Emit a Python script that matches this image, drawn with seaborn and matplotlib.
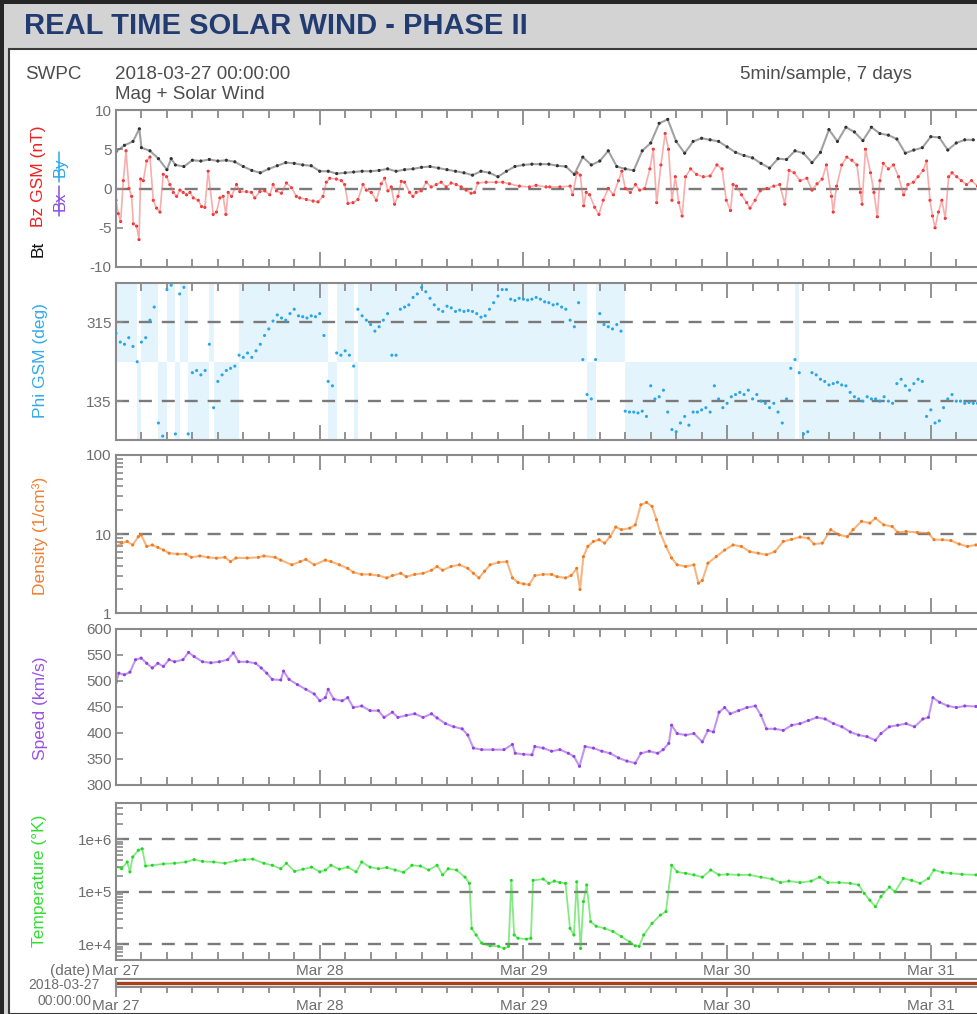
import numpy as np
import pandas as pd
import matplotlib
matplotlib.use('Agg')
import matplotlib.pyplot as plt
import matplotlib.dates as mdates
from matplotlib.patches import Rectangle
from matplotlib.lines import Line2D
from matplotlib.ticker import FixedLocator, NullFormatter, LogLocator, FixedFormatter
import seaborn as sns

# ---------------- DATA (hours after 2018-03-27 00:00) ----------------
START = pd.Timestamp('2018-03-27 00:00:00')

bt_hours = [0, 1, 2, 2.75, 3, 4, 5, 6, 6.5, 7,
            8, 9, 10, 11, 12, 13, 14, 15, 16, 17,
            18, 19, 20, 21, 22, 23, 24, 25, 26, 27,
            28, 29, 30, 31, 32, 33, 34, 35, 36, 37,
            38, 39, 40, 41, 42, 43, 44, 45, 46, 47,
            48, 49, 50, 51, 52, 53, 54, 55, 56, 57,
            58, 59, 60, 61, 62, 63, 64, 65, 66, 67,
            68, 69, 70, 71, 72, 73, 74, 75, 76, 77,
            78, 79, 80, 81, 82, 83, 84, 85, 86, 87,
            88, 89, 90, 91, 92, 93, 94, 95, 96, 97,
            98, 99, 100, 101]
bt_nT = [4.7, 5.5, 6.0, 7.6, 5.2, 4.8, 3.8, 2.4, 3.8, 3.0,
         2.8, 3.6, 3.5, 3.7, 3.5, 3.6, 3.4, 2.8, 2.3, 2.0,
         2.5, 2.9, 3.3, 3.2, 3.0, 2.9, 2.2, 2.2, 1.9, 2.0,
         2.1, 2.2, 2.2, 2.3, 2.5, 2.2, 2.4, 2.5, 2.7, 2.8,
         2.6, 2.4, 2.2, 2.0, 1.7, 2.2, 2.0, 1.5, 2.2, 2.8,
         3.0, 3.1, 3.1, 3.1, 2.9, 2.8, 1.8, 4.0, 3.0, 3.5,
         4.8, 2.8, 2.5, 2.3, 4.8, 5.8, 8.3, 8.8, 6.0, 4.5,
         6.0, 6.4, 6.2, 6.0, 5.3, 4.6, 4.2, 3.9, 3.2, 2.6,
         3.8, 3.7, 4.8, 4.5, 3.3, 4.6, 7.5, 6.0, 7.8, 7.2,
         6.1, 7.8, 7.0, 6.8, 6.3, 4.5, 4.9, 5.2, 6.6, 6.5,
         4.9, 5.8, 6.2, 6.2]

bz_hours = [0.0, 0.27, 0.55, 0.86, 1.18, 1.53, 1.84, 2.04, 2.43, 2.71,
            2.90, 3.22, 3.61, 4.00, 4.39, 4.78, 5.18, 5.57, 5.96, 6.35,
            6.75, 7.14, 7.53, 7.92, 8.31, 8.71, 9.10, 9.69, 10.08, 10.47,
            10.86, 11.45, 11.84, 12.24, 12.63, 12.94, 13.22, 13.61, 14.20, 14.59,
            15.37, 15.96, 16.35, 16.94, 17.53, 18.12, 18.51, 18.90, 19.49, 20.08,
            20.67, 21.25, 21.65, 22.43, 23.22, 23.80, 24.39, 24.78, 25.18, 25.96,
            26.55, 26.94, 27.33, 27.92, 28.51, 29.10, 29.49, 30.08, 30.67, 31.25,
            31.65, 32.04, 32.43, 32.82, 33.22, 33.61, 34.00, 34.59, 34.98, 35.37,
            35.96, 36.55, 37.14, 37.73, 38.31, 38.90, 39.49, 40.08, 40.67, 41.25,
            41.84, 42.24, 42.63, 43.61, 44.78, 45.57, 46.35, 47.53, 48.71, 49.49,
            50.67,
            51.1, 52.3, 53.5, 53.8, 54.3, 54.7, 55.1, 55.4, 55.8, 56.4,
            56.9, 57.4, 58.0, 58.6, 59.2, 59.6, 60.0, 60.6, 61.2, 61.7,
            62.3, 62.9, 63.3, 63.7, 64.2, 64.7, 65.1, 65.5, 65.9, 66.3,
            66.7, 67.1, 67.7, 68.4, 69.2, 70.0, 70.8, 71.4, 71.9, 72.4,
            72.7, 73.1, 73.7, 74.3, 74.7, 75.3, 75.9, 76.7, 77.5, 78.2,
            78.8, 79.3, 79.9, 80.6, 81.4, 82.0, 82.6, 83.2, 83.7, 84.3,
            84.5, 84.9, 85.5, 86.1, 86.7, 87.3, 87.7, 87.9, 88.3, 88.9,
            89.3, 89.7, 90.0, 90.4, 91.0, 91.6, 92.2, 92.8, 93.3, 93.95,
            94.5, 95.1, 95.5, 95.9, 96.2, 96.5, 96.9, 97.3, 97.7, 98.1,
            98.5, 99.05, 99.6, 100.2, 100.8, 101.5]
bz_nT = [-1.5, -3.2, -4.2, 1.0, 4.8, 0.0, -1.0, -4.5, -4.8, -6.5,
         1.2, 1.0, 3.5, 4.0, -1.5, -2.5, -3.0, 1.8, 1.5, 0.5,
         -0.5, -1.0, -0.2, -0.5, -0.8, -0.5, -1.2, -1.5, -2.3, -2.4,
         2.2, -3.3, -3.0, -1.2, -1.0, -3.3, -0.5, -1.0, 0.5, -0.4,
         -0.4, -0.5, -1.2, -0.4, -0.3, -0.8, 0.5, -0.3, -0.6, 0.7,
         0.1, -1.0, -1.2, -1.4, -1.6, -1.7, -1.0, 0.8, 1.3, 1.2,
         1.0, 0.5, -1.9, -1.8, -1.4, 0.5, -0.2, -0.5, -1.5, 0.6,
         1.3, -0.3, 0.2, -2.0, -1.0, 0.9, 0.8, -0.5, -1.0, -0.5,
         -0.3, 0.8, 0.2, 0.5, 0.8, 0.2, 0.7, 0.5, 0.2, -0.2,
         -0.6, -0.5, 0.7, 0.8, 0.8, 0.8, 0.6, 0.3, 0.2, 0.4,
         0.2,
         0.2, 0.2, 0.3, -0.8, 2.0, 1.7, -2.2, -0.5, -0.8, -2.4,
         -3.3, -1.5, 0.0, -0.8, 1.0, 2.2, 0.0, -0.5, 0.5, -0.2,
         0.0, 2.5, 5.0, -1.8, 3.0, 7.0, 5.0, -1.5, 1.5, -1.8,
         -3.5, 1.5, 2.5, 1.8, 1.5, 1.6, 3.0, 2.5, -1.5, -2.8,
         0.5, 0.3, -0.8, -1.8, -2.5, -1.5, -0.3, 0.0, 0.3, 0.5,
         -2.0, 2.3, 2.0, 1.0, 1.3, -0.2, 0.6, 1.2, 3.0, -1.0,
         -3.0, 0.3, 3.0, 4.0, 3.6, 3.0, -0.5, -2.0, 5.0, 2.0,
         -0.5, -3.6, 1.0, 3.2, 2.5, 3.0, 1.5, -0.8, 0.5, 0.8,
         1.5, 2.3, 3.5, -1.5, -3.5, -5.0, -3.0, -1.5, -3.8, 1.5,
         2.0, 1.5, 1.0, 0.5, 1.0, 0.3]

# Phi GSM, one value every 30 minutes from 00:00
phi_deg = [290, 270, 265, 280, 260, 225, 270, 280, 320, 350,
           85, 55, 390, 400, 60, 380, 395, 60, 200, 205,
           195, 205, 265, 120, 180, 195, 205, 210, 215, 240,
           235, 245, 235, 250, 265, 285, 300, 318, 332, 325,
           320, 335, 345, 330, 328, 325, 330, 328, 335, 285,
           180, 170, 245, 240, 250, 240, 215, 345, 330, 320,
           310, 295, 305, 320, 335, 240, 240, 345, 350, 355,
           372, 380, 395, 385, 370, 355, 345, 340, 352, 348,
           340, 343, 340, 342, 340, 335, 327, 330, 345, 360,
           375, 390, 390, 368, 365, 370, 368, 366, 368, 372,
           368, 362, 360, 355, 357, 350, 345, 320, 305, 360,
           230, 150, 140, 230, 335, 310, 305, 300, 310, 295,
           112, 110, 110, 108, 112, 100, 170, 140, 145, 160,
           110, 70, 65, 85, 100, 80, 110, 110, 115, 120,
           110, 170, 140, 120, 130, 145, 150, 155, 150, 160,
           140, 150, 135, 130, 120, 130, 110, 85, 140, 210,
           230, 200, 60, 65, 200, 195, 185, 180, 172, 175,
           178, 172, 170, 155, 145, 140, 135, 145, 140, 140,
           135, 145, 135, 130, 175, 185, 170, 160, 175, 185,
           180, 100, 115, 85, 90, 120, 140, 150, 135, 135,
           130, 132, 130, 130]

dens_hours = [0.0, 0.66, 1.32, 1.97, 2.63, 2.96, 3.62, 4.28, 4.93, 5.59,
              6.25, 7.24, 8.22, 8.88, 9.87, 10.86, 11.84, 12.83, 13.49, 14.14,
              15.46, 16.78, 17.43, 18.75, 19.41, 20.72, 21.71, 22.37, 23.36, 24.67,
              25.33, 26.32, 27.30, 27.96, 28.95, 29.93, 30.92, 31.91, 32.57, 33.55,
              34.21, 35.20, 36.18, 37.17, 37.83, 38.49, 39.47, 40.46, 41.45, 42.11,
              42.76, 43.42, 44.08, 45.07, 46.05, 46.71, 47.37, 48.03, 48.68, 49.34,
              50.33, 51.32, 51.97, 52.96, 53.62, 54.28, 54.67, 55.07, 55.59, 56.25,
              56.91, 57.57, 58.22, 58.88, 59.54, 60.53, 61.18, 61.84, 62.50, 63.16,
              63.68, 64.14, 64.80, 65.46, 66.12, 67.11, 68.09, 68.62, 69.08, 69.74,
              70.72, 71.71, 72.70, 73.68, 74.67, 75.66, 76.64, 77.63, 78.62, 79.61,
              80.59, 81.58, 82.24, 83.22, 84.21, 85.20, 86.18, 86.84, 87.83, 88.82,
              89.47, 90.46, 91.45, 92.11, 93.09, 94.41, 95.72, 96.38, 97.37, 98.36,
              99.34, 100.33, 101.32]
dens_cm3 = [7.0, 7.7, 8.1, 7.3, 9.3, 9.8, 7.0, 7.3, 6.8, 6.3,
            5.75, 5.6, 5.6, 5.1, 5.3, 5.1, 4.97, 5.1, 4.5, 5.0,
            5.0, 5.1, 5.3, 5.1, 4.7, 4.1, 4.5, 4.8, 4.1, 4.7,
            4.5, 4.1, 3.7, 3.3, 3.1, 3.1, 3.0, 2.8, 3.0, 3.2,
            2.9, 3.1, 3.2, 3.5, 3.9, 3.5, 3.9, 4.1, 3.7, 3.2,
            2.8, 3.4, 4.1, 4.4, 4.5, 2.8, 2.45, 2.35, 2.3, 3.0,
            3.1, 3.1, 2.9, 2.8, 3.0, 3.7, 2.0, 5.2, 7.0, 8.1,
            8.5, 7.7, 9.3, 12.3, 11.4, 11.9, 13.1, 23.5, 25.2, 22.4,
            15.2, 10.3, 7.0, 5.0, 4.1, 3.9, 4.1, 2.4, 2.6, 4.3,
            5.2, 6.3, 7.3, 7.0, 6.0, 5.75, 5.5, 6.0, 8.1, 8.6,
            9.2, 8.9, 7.5, 7.7, 11.4, 9.8, 9.3, 11.4, 14.5, 13.8,
            15.9, 13.1, 12.5, 10.5, 10.8, 10.5, 10.3, 8.5, 8.5, 8.3,
            7.5, 7.0, 7.3]

speed_hours = [0.0, 0.33, 0.99, 1.64, 2.30, 2.96, 3.62, 4.28, 4.93, 5.59,
               6.25, 6.91, 7.89, 8.55, 9.21, 10.20, 11.18, 12.17, 13.16, 13.82,
               14.47, 15.46, 16.45, 17.11, 17.76, 18.42, 19.41, 19.74, 20.39, 21.38,
               22.37, 23.36, 24.01, 24.67, 25.00, 25.66, 26.64, 27.30, 27.96, 28.95,
               29.93, 30.92, 31.58, 32.57, 33.22, 34.21, 35.20, 36.18, 37.17, 37.83,
               38.82, 39.80, 40.79, 41.45, 42.11, 43.09, 44.41, 45.72, 46.71, 47.04,
               48.03, 49.01, 49.34, 50.33, 51.32, 52.30, 53.29, 53.95, 54.61, 55.26,
               56.25, 57.24, 58.22, 59.21, 60.20, 61.18, 61.84, 62.83, 63.82, 64.47,
               65.13, 65.46, 66.12, 67.11, 68.09, 69.08, 69.74, 70.39, 71.05, 71.71,
               72.37, 73.36, 74.34, 75.33, 75.99, 76.64, 77.63, 78.62, 79.61, 80.59,
               81.58, 82.57, 83.55, 84.54, 85.53, 86.51, 87.50, 88.49, 89.47, 90.13,
               91.12, 92.11, 93.09, 94.08, 95.07, 95.72, 96.25, 97.04, 98.03, 99.01,
               100.00, 101.32]
speed_kms = [497, 515, 512, 517, 541, 544, 534, 525, 534, 528,
             541, 537, 541, 555, 547, 537, 535, 537, 541, 554,
             537, 537, 534, 525, 515, 503, 502, 519, 503, 493,
             484, 475, 462, 468, 484, 465, 462, 468, 449, 452,
             443, 443, 430, 440, 430, 434, 437, 430, 437, 429,
             418, 412, 408, 396, 371, 368, 368, 368, 378, 361,
             359, 358, 374, 371, 365, 368, 361, 355, 336, 374,
             371, 365, 361, 352, 346, 342, 361, 365, 361, 368,
             380, 415, 399, 396, 399, 383, 405, 402, 440, 449,
             437, 443, 449, 452, 434, 408, 408, 405, 415, 418,
             424, 430, 427, 418, 412, 402, 396, 393, 386, 399,
             412, 415, 418, 412, 427, 430, 468, 459, 452, 449,
             452, 451]

temp_hours = [0.0, 0.66, 1.32, 1.64, 1.97, 2.63, 3.09, 3.49, 4.28, 5.59,
              6.91, 8.22, 9.21, 10.20, 11.51, 12.83, 14.14, 15.13, 16.12, 17.43,
              18.42, 19.41, 20.07, 21.05, 22.04, 23.03, 24.01, 24.67, 25.33, 26.32,
              27.30, 28.29, 28.95, 29.93, 30.92, 31.91, 32.89, 33.88, 34.87, 35.86,
              36.84, 37.83, 38.49, 39.14, 40.13, 41.12, 41.64, 41.91, 42.43, 43.09,
              44.08, 45.07, 45.72, 46.25, 46.58, 46.91, 47.37, 48.36, 48.88, 49.14,
              50.33, 50.99, 51.64, 52.30, 52.96, 53.49, 53.95, 54.28, 54.74, 55.07,
              55.46, 55.92, 56.58, 57.57, 58.55, 59.54, 60.53, 61.18, 61.64, 62.17,
              63.16, 64.14, 64.80, 65.46, 66.12, 67.11, 68.09, 69.08, 70.07, 71.05,
              72.04, 73.36, 74.67, 75.99, 77.30, 78.29, 79.28, 80.59, 81.91, 82.89,
              83.88, 85.20, 86.51, 87.50, 88.16, 88.82, 89.47, 90.13, 91.12, 91.78,
              92.76, 93.75, 94.74, 95.72, 96.38, 97.37, 98.36, 99.67, 101.32]
temp_K = [3.0e5, 2.75e5, 3.7e5, 2.4e5, 4.6e5, 6.2e5, 6.6e5, 3.1e5, 3.2e5, 3.4e5,
          3.5e5, 3.7e5, 4.1e5, 3.8e5, 3.7e5, 3.5e5, 3.9e5, 4.1e5, 4.2e5, 3.5e5,
          3.2e5, 2.75e5, 3.5e5, 2.45e5, 2.7e5, 2.95e5, 2.4e5, 2.6e5, 3.2e5, 2.7e5,
          2.95e5, 2.4e5, 3.7e5, 2.95e5, 2.75e5, 2.9e5, 2.6e5, 2.35e5, 3.2e5, 3.1e5,
          2.6e5, 3.2e5, 2.1e5, 2.75e5, 2.6e5, 1.9e5, 1.45e5, 2.0e4, 1.5e4, 1.05e4,
          9.3e3, 9.1e3, 8.3e3, 9.1e3, 1.65e5, 1.5e4, 1.3e4, 1.25e4, 1.3e4, 1.65e5,
          1.75e5, 1.45e5, 1.6e5, 1.5e5, 1.45e5, 2.0e4, 1.5e4, 1.55e5, 8.3e3, 6.5e4,
          1.35e5, 2.7e4, 2.2e4, 2.0e4, 1.75e4, 1.4e4, 1.1e4, 9.3e3, 9.1e3, 1.5e4,
          2.5e4, 3.6e4, 4.2e4, 3.2e5, 2.4e5, 2.25e5, 2.1e5, 1.9e5, 2.6e5, 2.1e5,
          2.15e5, 2.1e5, 2.1e5, 1.9e5, 1.75e5, 1.5e5, 1.6e5, 1.5e5, 1.6e5, 1.9e5,
          1.5e5, 1.5e5, 1.45e5, 1.35e5, 9.3e4, 6.9e4, 5.2e4, 8.1e4, 1.23e5, 1.0e5,
          1.8e5, 1.65e5, 1.45e5, 1.8e5, 2.6e5, 2.35e5, 2.25e5, 2.15e5, 2.1e5]

strip_range_days = [0, 7]

# ---------------- STYLE ----------------
sns.set_style('white')
plt.rcParams['font.family'] = ['Liberation Sans', 'DejaVu Sans']
plt.rcParams['axes.unicode_minus'] = False

W, H = 978, 1014
fig = plt.figure(figsize=(W / 100, H / 100), dpi=100, facecolor='#262626')

def fx(px):
    return px / W

def fy(py):
    return 1 - py / H

# frame / page background
fig.add_artist(Rectangle((fx(4), fy(1014)), fx(978), (1014 - 4) / H,
                         transform=fig.transFigure, facecolor='#d3d3d3',
                         edgecolor='none', zorder=-20))
fig.add_artist(Rectangle((fx(9), fy(1014)), fx(975), (1014 - 49) / H,
                         transform=fig.transFigure, facecolor='white',
                         edgecolor='#3a3a3a', lw=1.5, zorder=-19))

fig.text(fx(24), fy(34), 'REAL TIME SOLAR WIND - PHASE II', fontsize=21,
         fontweight='bold', color='#223c72', va='baseline', ha='left')

TXT = '#4d4d4d'
fig.text(fx(25), fy(79), 'SWPC', fontsize=13.5, color=TXT, va='baseline')
fig.text(fx(115), fy(79), '2018-03-27 00:00:00', fontsize=13.5, color=TXT, va='baseline')
fig.text(fx(115), fy(99), 'Mag + Solar Wind', fontsize=13.5, color=TXT, va='baseline')
fig.text(fx(740), fy(79), '5min/sample, 7 days', fontsize=13.5, color=TXT, va='baseline')

LEFT = 116
X_END_H = 101.56
GRAY = '#8a8a8a'
TICKC = '#6e6e6e'


def make_axes(top, bottom):
    return fig.add_axes([fx(LEFT), fy(bottom), fx(W - LEFT), (bottom - top) / H])


def to_time(hours):
    return START + pd.to_timedelta(np.asarray(hours, dtype=float), unit='h')


def plot_series(ax, hours, vals, dot, line, s=5, lw=1.5, line_alpha=0.55):
    df = pd.DataFrame({'t': to_time(hours), 'v': vals})
    if line is not None:
        sns.lineplot(data=df, x='t', y='v', ax=ax, color=line, lw=lw,
                     alpha=line_alpha, estimator=None, sort=False, legend=False)
    sns.scatterplot(data=df, x='t', y='v', ax=ax, color=dot, s=s,
                    edgecolor='none', linewidth=0, legend=False)


def dashed(ax, y):
    ax.axhline(y, color='#7a7a7a', lw=1.7, ls=(0, (5.5, 4.2)), zorder=0.5)


def style_axes(ax, show_xlabels=False):
    ax.set_xlim(START, START + pd.Timedelta(hours=X_END_H))
    ax.xaxis.set_major_locator(mdates.DayLocator())
    ax.xaxis.set_minor_locator(mdates.HourLocator(byhour=range(0, 24, 3)))
    ax.xaxis.set_major_formatter(mdates.DateFormatter('%b %d'))
    ax.tick_params(axis='x', which='both', direction='in', top=True, bottom=True,
                   color=GRAY, width=1.3, labelbottom=show_xlabels,
                   labelsize=11, labelcolor=TICKC, pad=3)
    ax.tick_params(axis='x', which='major', length=11)
    ax.tick_params(axis='x', which='minor', length=6)
    ax.tick_params(axis='y', which='both', direction='in', left=True, right=False,
                   color=GRAY, width=1.2, labelsize=11, labelcolor=TICKC, pad=3)
    ax.tick_params(axis='y', which='major', length=5)
    ax.tick_params(axis='y', which='minor', length=5)
    for side in ['left', 'top', 'bottom']:
        ax.spines[side].set_color(GRAY)
        ax.spines[side].set_linewidth(1.5)
    ax.spines['right'].set_visible(False)
    ax.set_xlabel('')
    ax.set_ylabel('')
    ax.set_facecolor('white')


def ylabel(x, y, text, color, size=12.5):
    fig.text(fx(x), fy(y), text, rotation=90, ha='center', va='center',
             fontsize=size, color=color)


# ---------- Panel 1: magnetic field ----------
ax1 = make_axes(110, 267)
plot_series(ax1, bt_hours, bt_nT, '#111111', '#555555')
plot_series(ax1, bz_hours, bz_nT, '#ee1c1c', '#f26a6a', lw=1.2)
dashed(ax1, 0)
ax1.set_ylim(-10, 10)
ax1.set_yticks([-10, -5, 0, 5, 10])
style_axes(ax1)

ylabel(38, 176, 'Bz GSM (nT)', '#ee2222')
ylabel(38, 249, 'Bt', '#111111')
ylabel(60, 167, 'By', '#29a9e6', size=12)
ylabel(60, 201, 'Bx', '#8a4fe0', size=12)
fig.add_artist(Line2D([fx(59.5), fx(59.5)], [fy(152), fy(182)], color='#29a9e6', lw=1.1,
                      transform=fig.transFigure))
fig.add_artist(Line2D([fx(59.5), fx(59.5)], [fy(186), fy(216)], color='#8a4fe0', lw=1.1,
                      transform=fig.transFigure))

# ---------- Panel 2: Phi ----------
ax2 = make_axes(283, 440.5)
phi_t = pd.date_range(START, periods=len(phi_deg), freq='30min')
phi_bottom = [225 if p > 225 else 45 for p in phi_deg]
ax2.bar(phi_t, [180] * len(phi_deg), bottom=phi_bottom, width=1 / 48, align='edge',
        color='#e4f4fc', lw=0, zorder=0.2)
phi_df = pd.DataFrame({'t': phi_t, 'v': phi_deg})
sns.scatterplot(data=phi_df, x='t', y='v', ax=ax2, color='#2aa5e6', s=5,
                edgecolor='none', linewidth=0, legend=False, zorder=3)
dashed(ax2, 135)
dashed(ax2, 315)
ax2.set_ylim(45, 405)
ax2.set_yticks([135, 315])
style_axes(ax2)
ylabel(40, 361, 'Phi GSM (deg)', '#33aaee')

# ---------- Panel 3: Density ----------
ax3 = make_axes(455, 613.3)
ax3.set_yscale('log')
plot_series(ax3, dens_hours, dens_cm3, '#f07a1c', '#f07a1c')
dashed(ax3, 10)
ax3.set_ylim(1, 100)
ax3.yaxis.set_major_locator(FixedLocator([1, 10, 100]))
ax3.yaxis.set_major_formatter(FixedFormatter(['1', '10', '100']))
ax3.yaxis.set_minor_locator(LogLocator(base=10, subs=np.arange(2, 10)))
ax3.yaxis.set_minor_formatter(NullFormatter())
style_axes(ax3)
ylabel(40, 536, 'Density (1/cm³)', '#f08030')

# ---------- Panel 4: Speed ----------
ax4 = make_axes(629, 785)
plot_series(ax4, speed_hours, speed_kms, '#9140e0', '#9140e0')
ax4.set_ylim(300, 600)
ax4.set_yticks([300, 350, 400, 450, 500, 550, 600])
style_axes(ax4)
ylabel(40, 708, 'Speed (km/s)', '#9b50e6')

# ---------- Panel 5: Temperature ----------
ax5 = make_axes(802.7, 960)
ax5.set_yscale('log')
plot_series(ax5, temp_hours, temp_K, '#22d822', '#22d822', lw=1.3)
for v in [1e4, 1e5, 1e6]:
    dashed(ax5, v)
ax5.set_ylim(5e3, 5e6)
ax5.yaxis.set_major_locator(FixedLocator([1e4, 1e5, 1e6]))
ax5.yaxis.set_major_formatter(FixedFormatter(['1e+4', '1e+5', '1e+6']))
ax5.yaxis.set_minor_locator(LogLocator(base=10, subs=np.arange(2, 10)))
ax5.yaxis.set_minor_formatter(NullFormatter())
style_axes(ax5, show_xlabels=True)
ylabel(40, 881, 'Temperature (°K)', '#33dd33')

# ---------- Bottom range strip ----------
ax6 = make_axes(979.3, 986.7)
strip_df = pd.DataFrame({'t': START + pd.to_timedelta(strip_range_days, unit='D'),
                         'v': [0.5, 0.5]})
sns.lineplot(data=strip_df, x='t', y='v', ax=ax6, color='#a8401c', lw=2.4,
             estimator=None, legend=False)
ax6.set_ylim(0, 1)
ax6.set_yticks([])
style_axes(ax6, show_xlabels=True)
ax6.tick_params(axis='x', which='both', direction='out', top=False, bottom=True, pad=2)
ax6.tick_params(axis='x', which='major', length=7)
ax6.tick_params(axis='x', which='minor', length=4)

fig.text(fx(70), fy(971), '(date)', fontsize=11, color=TICKC, ha='center', va='center')
fig.text(fx(64), fy(985), '2018-03-27', fontsize=10, color=TICKC, ha='center', va='center')
fig.text(fx(64), fy(1001), '00:00:00', fontsize=10, color=TICKC, ha='center', va='center')

fig.savefig('out.png', dpi=100, facecolor=fig.get_facecolor())
